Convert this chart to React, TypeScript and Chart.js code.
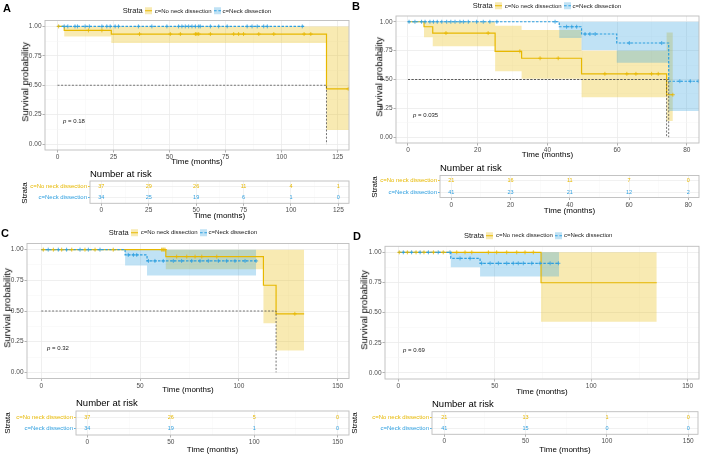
import { useEffect, useRef } from "react";
import { Chart, registerables } from "chart.js";

Chart.register(...registerables);

const FONT = '"Liberation Sans", Arial, Helvetica, sans-serif';
Chart.defaults.font.family = FONT;

const YELLOW = "#E7B800";
const BLUE = "#2E9FDF";
const YELLOW_FILL = "rgba(231,184,0,0.3)";
const BLUE_FILL = "rgba(46,159,223,0.3)";
const TICK_TEXT = "#4D4D4D";

const STRATA = ["c=No neck dissection", "c=Neck dissection"];
const SURV_BREAKS = [0, 0.25, 0.5, 0.75, 1];

// ---------- Panel A ----------
const A_BREAKS = [0, 25, 50, 75, 100, 125];
const A_NO_TIME = [0, 3, 24, 120, 130];
const A_NO_SURV = [1, 0.966, 0.935, 0.469, 0.469];
const A_NO_LOWER = [1, 0.915, 0.858, 0.119, 0.119];
const A_NO_UPPER = [1, 1, 1, 1, 1];
const A_NO_CENSOR = [0.5, 13.8, 19.8, 36.6, 50.3, 54.8, 61.5, 62.2, 63, 68.2, 78.6, 80.8, 83, 89.8, 96.5, 110, 113, 129.7];
const A_ND_TIME = [0, 110];
const A_ND_SURV = [1, 1];
const A_ND_LOWER = [1, 1];
const A_ND_UPPER = [1, 1];
const A_ND_CENSOR = [3, 4.6, 7.8, 8.9, 12.3, 14.2, 19.8, 22, 23.5, 25.7, 27.2, 36.1, 42.1, 48.8, 54, 55.5, 57, 58.5, 60, 61.5, 63, 63.7, 68.2, 71.9, 75.7, 84.6, 86.8, 89.1, 92, 93.6, 109.2];
const A_MEDIANS = [120];
const A_PVALUE = "0.18";
const A_RISK_NO = [37, 29, 26, 11, 4, 1];
const A_RISK_ND = [34, 25, 19, 6, 1, 0];

// ---------- Panel B ----------
const B_BREAKS = [0, 20, 40, 60, 80];
const B_NO_TIME = [0, 4.6, 7.1, 25, 32.6, 49.8, 74.2, 76];
const B_NO_SURV = [1, 0.957, 0.902, 0.744, 0.684, 0.549, 0.368, 0.368];
const B_NO_LOWER = [1, 0.865, 0.787, 0.571, 0.506, 0.347, 0.14, 0.14];
const B_NO_UPPER = [1, 1, 1, 0.965, 0.928, 0.75, 0.908, 0.908];
const B_NO_CENSOR = [10.9, 23, 32.1, 37.9, 43.1, 56.5, 62.8, 65.4, 69.9, 71.8, 76];
const B_ND_TIME = [0, 43.4, 49.8, 59.9, 74.8, 83.5];
const B_ND_SURV = [1, 0.957, 0.894, 0.816, 0.485, 0.485];
const B_ND_LOWER = [1, 0.86, 0.756, 0.644, 0.227, 0.227];
const B_ND_UPPER = [1, 1, 1, 1, 1, 1];
const B_ND_CENSOR = [0.3, 2, 3.9, 4.9, 6.3, 7.3, 8.4, 9.7, 11.1, 12.3, 13.5, 14.9, 15.9, 17.3, 19.7, 21.6, 23.5, 25.5, 42.2, 45.5, 47, 48.4, 50.8, 52.2, 53.7, 63.5, 72.8, 78, 81, 83.3];
const B_MEDIANS = [74.2, 74.8];
const B_PVALUE = "0.035";
const B_RISK_NO = [21, 16, 11, 7, 0];
const B_RISK_ND = [41, 23, 21, 12, 2];

// ---------- Panel C ----------
const C_BREAKS = [0, 50, 100, 150];
const C_NO_TIME = [0, 63, 112.4, 118.8, 133];
const C_NO_SURV = [1, 0.943, 0.71, 0.477, 0.477];
const C_NO_LOWER = [1, 0.84, 0.4, 0.179, 0.179];
const C_NO_UPPER = [1, 1, 1, 1, 1];
const C_NO_CENSOR = [1, 6.1, 10.3, 15.4, 22.1, 27.2, 36.4, 60.9, 61.5, 62, 62.6, 68.5, 73.6, 77.8, 81.2, 88.8, 128.3];
const C_ND_TIME = [0, 42.4, 53.5, 108.7];
const C_ND_SURV = [1, 0.957, 0.908, 0.908];
const C_ND_LOWER = [1, 0.87, 0.789, 0.789];
const C_ND_UPPER = [1, 1, 1, 1];
const C_ND_CENSOR = [3.5, 8.6, 12.8, 19.6, 23.8, 29.7, 44, 46.6, 48.3, 54.2, 57.5, 61.7, 66.8, 71, 76.1, 80.3, 84.5, 89.6, 93.8, 98, 103.1, 108.7];
const C_MEDIANS = [118.8];
const C_PVALUE = "0.32";
const C_RISK_NO = [37, 26, 5, 0];
const C_RISK_ND = [34, 19, 1, 0];

// ---------- Panel D ----------
const D_BREAKS = [0, 50, 100, 150];
const D_NO_TIME = [0, 74, 134];
const D_NO_SURV = [1, 0.748, 0.748];
const D_NO_LOWER = [1, 0.425, 0.425];
const D_NO_UPPER = [1, 1, 1];
const D_NO_CENSOR = [0.5, 4.7, 9.2, 13.3, 18.2, 23.3, 30.3, 34.6, 38.1, 46.7, 51, 56.2, 61.4, 65.7, 70];
const D_ND_TIME = [0, 27.2, 42.4, 83.4];
const D_ND_SURV = [1, 0.95, 0.909, 0.909];
const D_ND_LOWER = [1, 0.876, 0.8, 0.8];
const D_ND_UPPER = [1, 1, 1, 1];
const D_ND_CENSOR = [2.6, 6.9, 11.3, 15.6, 20.7, 26.8, 32, 37.2, 43.2, 47.6, 51.9, 56.2, 59.6, 62.2, 64.8, 69.2, 73.5, 78.7, 83];
const D_MEDIANS: number[] = [];
const D_PVALUE = "0.69";
const D_RISK_NO = [21, 13, 1, 0];
const D_RISK_ND = [41, 15, 0, 0];

// ---------- layout ----------
type Box = { L: number; T: number; R: number; B: number };
type Pt = [number, number];

type Curve = {
  time: number[];
  surv: number[];
  lower: number[];
  upper: number[];
  censor: number[];
  color: string;
  fill: string;
  dash: number[];
};

type PanelDef = {
  letter: string;
  breaks: number[];
  curves: Curve[];
  medians: number[];
  pvalue: string;
  riskNo: number[];
  riskNd: number[];
  km: Box;
  kmX: [number, number];
  tbl: Box;
  tblX: [number, number];
  tblY: [number, number];
  letterPos: Pt;
  legendPos: Pt;
  yTitlePos: Pt;
  xTitlePos: Pt;
  pPos: Pt;
  riskTitlePos: Pt;
  strataPos: Pt;
  tblXTitlePos: Pt;
};

const curvePair = (
  no: [number[], number[], number[], number[], number[]],
  nd: [number[], number[], number[], number[], number[]]
): Curve[] => [
  { time: no[0], surv: no[1], lower: no[2], upper: no[3], censor: no[4], color: YELLOW, fill: YELLOW_FILL, dash: [] },
  { time: nd[0], surv: nd[1], lower: nd[2], upper: nd[3], censor: nd[4], color: BLUE, fill: BLUE_FILL, dash: [2.5, 1.5] },
];

const PANELS: PanelDef[] = [
  {
    letter: "A",
    breaks: A_BREAKS,
    curves: curvePair(
      [A_NO_TIME, A_NO_SURV, A_NO_LOWER, A_NO_UPPER, A_NO_CENSOR],
      [A_ND_TIME, A_ND_SURV, A_ND_LOWER, A_ND_UPPER, A_ND_CENSOR]
    ),
    medians: A_MEDIANS,
    pvalue: A_PVALUE,
    riskNo: A_RISK_NO,
    riskNd: A_RISK_ND,
    km: { L: 45, T: 20.5, R: 349, B: 150 },
    kmX: [-5.58, 130.04],
    tbl: { L: 90, T: 181, R: 349, B: 203.3 },
    tblX: [-5.96, 130.6],
    tblY: [0.463, 2.528],
    letterPos: [3, 7.5],
    legendPos: [122.7, 11],
    yTitlePos: [25, 82],
    xTitlePos: [197, 162],
    pPos: [63, 120.7],
    riskTitlePos: [90, 173.5],
    strataPos: [25, 193],
    tblXTitlePos: [219.5, 216],
  },
  {
    letter: "B",
    breaks: B_BREAKS,
    curves: curvePair(
      [B_NO_TIME, B_NO_SURV, B_NO_LOWER, B_NO_UPPER, B_NO_CENSOR],
      [B_ND_TIME, B_ND_SURV, B_ND_LOWER, B_ND_UPPER, B_ND_CENSOR]
    ),
    medians: B_MEDIANS,
    pvalue: B_PVALUE,
    riskNo: B_RISK_NO,
    riskNd: B_RISK_ND,
    km: { L: 396, T: 16, R: 699, B: 143 },
    kmX: [-3.44, 83.5],
    tbl: { L: 440, T: 175.5, R: 699, B: 197.5 },
    tblX: [-3.81, 83.6],
    tblY: [0.55, 2.45],
    letterPos: [352, 6],
    legendPos: [472.7, 6],
    yTitlePos: [379, 77],
    xTitlePos: [547.5, 155],
    pPos: [413, 115],
    riskTitlePos: [440, 168],
    strataPos: [375, 187],
    tblXTitlePos: [569.5, 210.7],
  },
  {
    letter: "C",
    breaks: C_BREAKS,
    curves: curvePair(
      [C_NO_TIME, C_NO_SURV, C_NO_LOWER, C_NO_UPPER, C_NO_CENSOR],
      [C_ND_TIME, C_ND_SURV, C_ND_LOWER, C_ND_UPPER, C_ND_CENSOR]
    ),
    medians: C_MEDIANS,
    pvalue: C_PVALUE,
    riskNo: C_RISK_NO,
    riskNd: C_RISK_ND,
    km: { L: 27, T: 243.5, R: 349, B: 378.5 },
    kmX: [-7.24, 155.7],
    tbl: { L: 76, T: 411, R: 349, B: 435 },
    tblX: [-6.77, 156.8],
    tblY: [0.45, 2.55],
    letterPos: [1, 233],
    legendPos: [108.7, 232.7],
    yTitlePos: [7, 308],
    xTitlePos: [188, 390],
    pPos: [47, 348],
    riskTitlePos: [76, 403],
    strataPos: [8, 423],
    tblXTitlePos: [212.5, 450],
  },
  {
    letter: "D",
    breaks: D_BREAKS,
    curves: curvePair(
      [D_NO_TIME, D_NO_SURV, D_NO_LOWER, D_NO_UPPER, D_NO_CENSOR],
      [D_ND_TIME, D_ND_SURV, D_ND_LOWER, D_ND_UPPER, D_ND_CENSOR]
    ),
    medians: D_MEDIANS,
    pvalue: D_PVALUE,
    riskNo: D_RISK_NO,
    riskNd: D_RISK_ND,
    km: { L: 385, T: 246.3, R: 699, B: 379 },
    kmX: [-6.9, 155.9],
    tbl: { L: 432, T: 411.7, R: 698, B: 434.3 },
    tblX: [-7.56, 156],
    tblY: [0.45, 2.55],
    letterPos: [353, 236],
    legendPos: [464, 235.7],
    yTitlePos: [364, 310],
    xTitlePos: [542, 392],
    pPos: [403, 350],
    riskTitlePos: [432, 404],
    strataPos: [355, 423],
    tblXTitlePos: [565, 450],
  },
];

// ---------- helpers ----------
function stepAt(time: number[], surv: number[], t: number) {
  let v = surv[0];
  for (let i = 0; i < time.length; i++) if (time[i] <= t) v = surv[i];
  return v;
}

function withMinor(breaks: number[], min: number, max: number) {
  const out = breaks.filter((v) => v >= min && v <= max).map((v) => ({ value: v, minor: false }));
  for (let i = 0; i < breaks.length - 1; i++) {
    const m = (breaks[i] + breaks[i + 1]) / 2;
    if (m >= min && m <= max) out.push({ value: m, minor: true });
  }
  return out.sort((a, b) => a.value - b.value);
}

const isMinor = (c: any) => !!(c && c.tick && c.tick.minor);

const gridOpts = (major: string, minor: string) => ({
  color: (c: any) => (isMinor(c) ? minor : major),
  lineWidth: (c: any) => (isMinor(c) ? 0.5 : 0.8),
  tickColor: (c: any) => (isMinor(c) ? "rgba(0,0,0,0)" : "#9E9E9E"),
  tickLength: 2.5,
  tickWidth: 0.8,
  drawTicks: true,
});

const panelBorder = {
  id: "panelBorder",
  afterDatasetsDraw(chart: any) {
    const { ctx, chartArea } = chart;
    const { left, top, right, bottom } = chartArea;
    ctx.save();
    ctx.strokeStyle = "#BDBDBD";
    ctx.lineWidth = 0.9;
    ctx.strokeRect(left, top, right - left, bottom - top);
    ctx.restore();
  },
};

const riskText = {
  id: "riskText",
  afterDatasetsDraw(chart: any) {
    const ctx = chart.ctx;
    chart.data.datasets.forEach((ds: any, i: number) => {
      if (!ds.counts) return;
      const meta = chart.getDatasetMeta(i);
      ctx.save();
      ctx.font = `5.5px ${FONT}`;
      ctx.fillStyle = ds.textColor;
      ctx.textAlign = "center";
      ctx.textBaseline = "middle";
      meta.data.forEach((el: any, j: number) => ctx.fillText(String(ds.counts[j]), el.x, el.y));
      ctx.restore();
    });
  },
};

type Geo = { yW: number; padT: number; padR: number; xH: number };

function kmConfig(p: PanelDef, g: Geo): any {
  const datasets: any[] = [];
  p.curves.forEach((c, ci) => {
    datasets.push({
      data: c.time.map((t, i) => ({ x: t, y: c.upper[i] })),
      stepped: "before",
      borderWidth: 0,
      pointRadius: 0,
      fill: false,
      order: 11 - ci,
    });
    datasets.push({
      data: c.time.map((t, i) => ({ x: t, y: c.lower[i] })),
      stepped: "before",
      borderWidth: 0,
      pointRadius: 0,
      fill: "-1",
      backgroundColor: c.fill,
      order: 11 - ci,
    });
  });
  p.curves.forEach((c, ci) => {
    datasets.push({
      data: c.time.map((t, i) => ({ x: t, y: c.surv[i] })),
      stepped: "before",
      borderColor: c.color,
      borderWidth: 1.2,
      borderDash: c.dash,
      pointRadius: 0,
      fill: false,
      order: 7 - ci,
    });
    datasets.push({
      data: [...c.censor].sort((a, b) => a - b).map((t) => ({ x: t, y: stepAt(c.time, c.surv, t) })),
      showLine: false,
      pointStyle: "cross",
      pointRadius: 2,
      pointBorderWidth: 0.8,
      pointBorderColor: c.color,
      pointBackgroundColor: c.color,
      borderColor: c.color,
      order: 4 - ci,
    });
  });
  p.medians.forEach((m) => {
    datasets.push({
      data: [
        { x: 0, y: 0.5 },
        { x: m, y: 0.5 },
        { x: m, y: 0 },
      ],
      borderColor: "#505050",
      borderWidth: 0.8,
      borderDash: [2, 1.6],
      pointRadius: 0,
      fill: false,
      order: 1,
    });
  });

  return {
    type: "line",
    data: { datasets },
    plugins: [panelBorder],
    options: {
      responsive: false,
      animation: false,
      devicePixelRatio: 1,
      events: [],
      layout: { padding: { left: 0, top: g.padT, right: g.padR, bottom: 0 } },
      plugins: { legend: { display: false }, tooltip: { enabled: false }, title: { display: false } },
      scales: {
        x: {
          type: "linear",
          bounds: "data",
          min: p.kmX[0],
          max: p.kmX[1],
          afterBuildTicks: (s: any) => {
            s.ticks = withMinor(p.breaks, p.kmX[0], p.kmX[1]);
          },
          afterFit: (s: any) => {
            s.height = g.xH;
          },
          ticks: {
            autoSkip: false,
            maxRotation: 0,
            padding: 1,
            color: TICK_TEXT,
            font: { size: 6.5 },
            callback: (v: number, i: number, ticks: any[]) => (ticks[i].minor ? "" : String(v)),
          },
          grid: gridOpts("#EBEBEB", "#F4F4F4"),
          border: { display: false },
        },
        y: {
          type: "linear",
          bounds: "data",
          min: -0.05,
          max: 1.05,
          afterBuildTicks: (s: any) => {
            s.ticks = withMinor(SURV_BREAKS, -0.05, 1.05);
          },
          afterFit: (s: any) => {
            s.width = g.yW;
          },
          ticks: {
            autoSkip: false,
            padding: 1,
            color: TICK_TEXT,
            font: { size: 6.5 },
            callback: (v: number, i: number, ticks: any[]) => (ticks[i].minor ? "" : v.toFixed(2)),
          },
          grid: gridOpts("#EBEBEB", "#F4F4F4"),
          border: { display: false },
        },
      },
    },
  };
}

function tableConfig(p: PanelDef, g: Geo): any {
  const rows = [p.riskNo, p.riskNd];
  const datasets = rows.map((counts, ri) => ({
    data: p.breaks.map((t) => ({ x: t, y: 2 - ri })),
    counts,
    textColor: ri === 0 ? YELLOW : BLUE,
    showLine: false,
    pointRadius: 0,
  }));
  return {
    type: "line",
    data: { datasets },
    plugins: [panelBorder, riskText],
    options: {
      responsive: false,
      animation: false,
      devicePixelRatio: 1,
      events: [],
      layout: { padding: { left: 0, top: g.padT, right: g.padR, bottom: 0 } },
      plugins: { legend: { display: false }, tooltip: { enabled: false }, title: { display: false } },
      scales: {
        x: {
          type: "linear",
          bounds: "data",
          min: p.tblX[0],
          max: p.tblX[1],
          afterBuildTicks: (s: any) => {
            s.ticks = withMinor(p.breaks, p.tblX[0], p.tblX[1]);
          },
          afterFit: (s: any) => {
            s.height = g.xH;
          },
          ticks: {
            autoSkip: false,
            maxRotation: 0,
            padding: 1,
            color: TICK_TEXT,
            font: { size: 6.5 },
            callback: (v: number, i: number, ticks: any[]) => (ticks[i].minor ? "" : String(v)),
          },
          grid: gridOpts("#EEEEEE", "#F6F6F6"),
          border: { display: false },
        },
        y: {
          type: "linear",
          bounds: "data",
          min: p.tblY[0],
          max: p.tblY[1],
          afterBuildTicks: (s: any) => {
            s.ticks = [{ value: 1 }, { value: 2 }];
          },
          afterFit: (s: any) => {
            s.width = g.yW;
          },
          ticks: {
            autoSkip: false,
            padding: 1,
            font: { size: 6 },
            color: (c: any) => (c.tick && c.tick.value === 2 ? YELLOW : BLUE),
            callback: (v: number) => (v === 2 ? STRATA[0] : STRATA[1]),
          },
          grid: {
            color: "#EEEEEE",
            lineWidth: 0.8,
            tickColor: (c: any) => (c.tick && c.tick.value === 2 ? YELLOW : BLUE),
            tickLength: 2,
            tickWidth: 0.8,
          },
          border: { display: false },
        },
      },
    },
  };
}

function ChartBox({
  box,
  margins,
  build,
}: {
  box: Box;
  margins: { l: number; t: number; r: number; b: number };
  build: (g: Geo) => any;
}) {
  const ref = useRef<HTMLCanvasElement>(null);
  const left = Math.floor(box.L) - margins.l;
  const top = Math.floor(box.T) - margins.t;
  const width = Math.ceil(box.R) + margins.r - left;
  const height = Math.ceil(box.B) + margins.b - top;
  useEffect(() => {
    const g: Geo = { yW: box.L - left, padT: box.T - top, padR: left + width - box.R, xH: top + height - box.B };
    const chart = new Chart(ref.current as HTMLCanvasElement, build(g));
    return () => chart.destroy();
  }, []);
  return (
    <canvas
      ref={ref}
      width={width}
      height={height}
      style={{ position: "absolute", left, top, width, height }}
    />
  );
}

// ---------- text overlays ----------
function Txt({
  pos,
  size,
  children,
  center = false,
  rotate = false,
  bold = false,
  color = "#000",
}: {
  pos: Pt;
  size: number;
  children: any;
  center?: boolean;
  rotate?: boolean;
  bold?: boolean;
  color?: string;
}) {
  let transform = "translateY(-50%)";
  if (center) transform = "translate(-50%,-50%)";
  if (rotate) transform = "translate(-50%,-50%) rotate(-90deg)";
  return (
    <div
      style={{
        position: "absolute",
        left: pos[0],
        top: pos[1],
        transform,
        fontSize: size,
        lineHeight: 1,
        whiteSpace: "nowrap",
        fontWeight: bold ? 700 : 400,
        color,
        fontFamily: FONT,
      }}
    >
      {children}
    </div>
  );
}

function Key({ color, fill, dashed }: { color: string; fill: string; dashed?: boolean }) {
  return (
    <span style={{ display: "inline-block", position: "relative", width: 7, height: 7, background: fill }}>
      <span
        style={{
          position: "absolute",
          left: 0,
          right: 0,
          top: 3,
          borderTop: `1px ${dashed ? "dashed" : "solid"} ${color}`,
        }}
      />
    </span>
  );
}

function Legend({ pos }: { pos: Pt }) {
  return (
    <div
      style={{
        position: "absolute",
        left: pos[0],
        top: pos[1],
        transform: "translateY(-50%)",
        display: "flex",
        alignItems: "center",
        whiteSpace: "nowrap",
        lineHeight: 1,
        fontFamily: FONT,
        color: "#1A1A1A",
      }}
    >
      <span style={{ fontSize: 7.5, marginRight: 2 }}>Strata</span>
      <Key color={YELLOW} fill={YELLOW_FILL} />
      <span style={{ fontSize: 6, marginLeft: 3, marginRight: 2 }}>{STRATA[0]}</span>
      <Key color={BLUE} fill={BLUE_FILL} dashed />
      <span style={{ fontSize: 6, marginLeft: 2 }}>{STRATA[1]}</span>
    </div>
  );
}

function Panel({ p }: { p: PanelDef }) {
  return (
    <>
      <ChartBox box={p.km} margins={{ l: 40, t: 8, r: 6, b: 14 }} build={(g) => kmConfig(p, g)} />
      <ChartBox box={p.tbl} margins={{ l: 66, t: 8, r: 6, b: 12 }} build={(g) => tableConfig(p, g)} />
      <Txt pos={p.letterPos} size={11} bold>
        {p.letter}
      </Txt>
      <Legend pos={p.legendPos} />
      <Txt pos={p.yTitlePos} size={9.5} rotate>
        Survival probability
      </Txt>
      <Txt pos={p.xTitlePos} size={8} center>
        Time (months)
      </Txt>
      <Txt pos={p.pPos} size={6} color="#1A1A1A">
        <i>p</i> = {p.pvalue}
      </Txt>
      <Txt pos={p.riskTitlePos} size={9.5}>
        Number at risk
      </Txt>
      <Txt pos={p.strataPos} size={8} rotate>
        Strata
      </Txt>
      <Txt pos={p.tblXTitlePos} size={8} center>
        Time (months)
      </Txt>
    </>
  );
}

export default function App() {
  return (
    <div
      style={{
        position: "fixed",
        left: 0,
        top: 0,
        width: 702,
        height: 454,
        overflow: "hidden",
        background: "#fff",
        fontFamily: FONT,
      }}
    >
      {PANELS.map((p) => (
        <Panel key={p.letter} p={p} />
      ))}
    </div>
  );
}
